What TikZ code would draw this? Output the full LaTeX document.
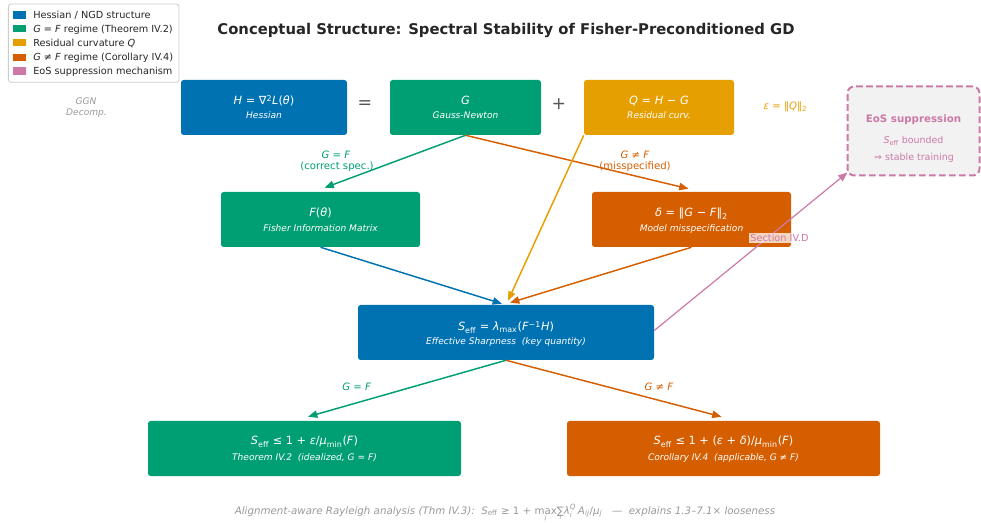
\documentclass[tikz,border=0pt]{standalone}
\usepackage{amsmath}
\usepackage{fontspec}
\setmainfont{DejaVu Sans}
\usetikzlibrary{arrows.meta,calc}
\definecolor{cblue}{HTML}{0072B2}
\definecolor{cgreen}{HTML}{009E73}
\definecolor{corange}{HTML}{E69F00}
\definecolor{cverm}{HTML}{D55E00}
\definecolor{cpink}{HTML}{CC79A7}
\definecolor{cgray}{HTML}{999999}
\definecolor{ctitle}{HTML}{262626}
\definecolor{cop}{HTML}{555555}
\definecolor{clegframe}{HTML}{CCCCCC}
\definecolor{ceosfill}{HTML}{F2F2F2}
\newlength\px \setlength\px{0.75pt}
\newcommand\mi[1]{\textit{#1}}
\newcommand\sbs[1]{\ensuremath{_{\text{\upshape #1}}}}
\newcommand\sps[1]{\ensuremath{^{\text{\upshape #1}}}}
\newcommand\fs[1]{\fontsize{#1}{#1}\selectfont}
\newcommand\undr[2]{\begin{tabular}[t]{@{}c@{}}#1\\[-3.6pt]{\fs{4.6}#2}\end{tabular}}
\begin{document}
\begin{tikzpicture}[x=0.75pt,y=-0.75pt,
  box/.style={rounded corners=2pt, inner sep=0pt, draw=none},
  maintxt/.style={anchor=base, text=white, font=\fs{8.5}, inner sep=0pt},
  subtxt/.style={anchor=base, text=white, font=\fs{6.8}\itshape, inner sep=0pt},
  lbl/.style={anchor=base, font=\fs{7.6}, inner sep=0pt},
  arr/.style={-{Triangle[length=7pt,width=5.5pt]}, line width=1.1pt},
  legpatch/.style={inner sep=0pt, minimum width=12.7\px, minimum height=7.3\px},
  legtxt/.style={anchor=base west, font=\fs{7.3}, text=ctitle, inner sep=0pt}]
\useasboundingbox (0,0) rectangle (981,523);

% legend
\node[draw=clegframe, fill=white, line width=0.6pt, rounded corners=2pt, inner sep=0pt,
      minimum width=170.7\px, minimum height=78.3\px] (leg) at (93.7,43.2) {};
\node[legpatch, fill=cblue]   (p1) at (19.7,14.9) {};
\node[legpatch, fill=cgreen]  (p2) at (19.7,28.8) {};
\node[legpatch, fill=corange] (p3) at (19.7,42.7) {};
\node[legpatch, fill=cverm]   (p4) at (19.7,57.2) {};
\node[legpatch, fill=cpink]   (p5) at (19.7,71.1) {};
\node[legtxt] (t1) at (33,18.3) {Hessian / NGD structure};
\node[legtxt] (t2) at (33,32.2) {\mi{G} = \mi{F} regime (Theorem IV.2)};
\node[legtxt] (t3) at (33,46.1) {Residual curvature \mi{Q}};
\node[legtxt] (t4) at (33,60.6) {\mi{G} ≠ \mi{F} regime (Corollary IV.4)};
\node[legtxt] (t5) at (33,74.5) {EoS suppression mechanism};

% title
\node[anchor=base, font=\fs{11.1}\bfseries, text=ctitle, inner sep=0pt] (title) at (506,35)
  {Conceptual Structure: Spectral Stability of Fisher-Preconditioned GD};

% side notes
\node[anchor=base, font=\fs{6.8}\itshape, text=cgray, inner sep=0pt] (ggn1) at (86,105) {GGN};
\node[anchor=base, font=\fs{6.8}\itshape, text=cgray, inner sep=0pt] (ggn2) at (86.5,116) {Decomp.};
\node[font=\fs{13}, text=cop, inner sep=0pt] (eq) at (365,105) {=};
\node[font=\fs{13}, text=cop, inner sep=0pt] (plus) at (559,104.5) {+};
\node[lbl, text=corange] (eps) at (785.5,110) {\mi{ε} = ‖\mi{Q}‖\sbs{2}};

% boxes
\node[box, fill=cblue,  minimum width=166\px, minimum height=55\px] (H) at (264,107.5) {};
\node[box, fill=cgreen, minimum width=151\px, minimum height=55\px] (G) at (465.5,107.5) {};
\node[box, fill=corange,minimum width=150\px, minimum height=55\px] (Q) at (659,107.5) {};
\node[box, fill=cgreen, minimum width=199\px, minimum height=55\px] (F) at (320.5,219.5) {};
\node[box, fill=cverm,  minimum width=199\px, minimum height=55\px] (D) at (691.5,219.5) {};
\node[box, fill=cblue,  minimum width=296\px, minimum height=55\px] (S) at (506,332.5) {};
\node[box, fill=cgreen, minimum width=313\px, minimum height=55\px] (BL) at (304.5,448.5) {};
\node[box, fill=cverm,  minimum width=313\px, minimum height=55\px] (BR) at (723.5,448.5) {};
\node[fill=ceosfill, draw=cpink, line width=1.5pt, rounded corners=5pt,
      dash pattern=on 5pt off 2.5pt, inner sep=0pt,
      minimum width=132\px, minimum height=89\px] (EoS) at (913.5,131) {};

% box texts
\node[maintxt] (Hm) at (264,105) {\mi{H} = ∇\sps{2}\mi{L}(\mi{θ})};
\node[subtxt]  (Hs) at (264,119) {Hessian};
\node[maintxt] (Gm) at (465.5,105) {\mi{G}};
\node[subtxt]  (Gs) at (465.5,119) {Gauss-Newton};
\node[maintxt] (Qm) at (659,105) {\mi{Q} = \mi{H} − \mi{G}};
\node[subtxt]  (Qs) at (659,119) {Residual curv.};
\node[maintxt] (Fm) at (320.5,217) {\mi{F}(\mi{θ})};
\node[subtxt]  (Fs) at (320.5,232) {Fisher Information Matrix};
\node[maintxt] (Dm) at (691.5,217) {\mi{δ} = ‖\mi{G} − \mi{F}‖\sbs{2}};
\node[subtxt]  (Ds) at (691.5,232) {Model misspecification};
\node[maintxt] (Sm) at (506,331) {\mi{S}\sbs{eff} = \mi{λ}\sbs{max}(\mi{F}\sps{−1}\mi{H})};
\node[subtxt]  (Ss) at (506,344.5) {Effective Sharpness\ \ (key quantity)};
\node[maintxt] (BLm) at (304.5,445) {\mi{S}\sbs{eff} ≤ 1 + \mi{ε}/\mi{μ}\sbs{min}(\mi{F})};
\node[subtxt]  (BLs) at (304.5,460) {Theorem IV.2\ \ (idealized, \mi{G} = \mi{F})};
\node[maintxt] (BRm) at (723.5,445) {\mi{S}\sbs{eff} ≤ 1 + (\mi{ε} + \mi{δ})/\mi{μ}\sbs{min}(\mi{F})};
\node[subtxt]  (BRs) at (723.5,460) {Corollary IV.4\ \ (applicable, \mi{G} ≠ \mi{F})};
\node[anchor=base, font=\fs{7.7}\bfseries, text=cpink, inner sep=0pt] (Et) at (913.5,123) {EoS suppression};
\node[anchor=base, font=\fs{7.1}, text=cpink, inner sep=0pt] (Ea) at (913.5,144) {\mi{S}\sbs{eff} bounded};
\node[anchor=base, font=\fs{7.1}, text=cpink, inner sep=0pt] (Eb) at (914,161) {⇒ stable training};

% connectors
\draw[arr, cgreen] (G.south) -- ($(F.north)+(4,-4)$);
\draw[arr, cverm] (G.south) -- ($(D.north)+(-3,-3)$);
\draw[arr, corange] (Q.south west) -- ($(S.north)+(2,-4)$);
\draw[arr, cblue] (F.south) -- ($(S.north)+(-4,-1)$);
\draw[arr, cverm] (D.south) -- ($(S.north)+(4,-2)$);
\draw[arr, cpink, line width=0.9pt] ($(S.east)+(0,-2)$) -- ($(EoS.south west)+(1,-4)$);
\draw[arr, cgreen] (S.south) -- ($(BL.north)+(3.5,-4)$);
\draw[arr, cverm] (S.south) -- ($(BR.north)+(-2,-4)$);

% connector labels
\node[lbl, text=cgreen] (la1) at (336,158.3) {\mi{G} = \mi{F}};
\node[lbl, text=cgreen] (la2) at (337,169.5) {(correct spec.)};
\node[lbl, text=cverm] (lb1) at (635,158.3) {\mi{G} ≠ \mi{F}};
\node[lbl, text=cverm] (lb2) at (635,169.5) {(misspecified)};
\node[anchor=base, font=\fs{7.3}, text=cpink, fill=white, fill opacity=0.75, text opacity=1,
      inner sep=1pt] (sec) at (779.5,241.7) {Section IV.D};
\node[lbl, text=cgreen] (lc) at (356.7,390.5) {\mi{G} = \mi{F}};
\node[lbl, text=cverm] (ld) at (659,390.5) {\mi{G} ≠ \mi{F}};

% footer
\node[anchor=base, font=\fs{7.7}, text=cgray, inner sep=0pt] (foot) at (505,514)
  {\textit{Alignment-aware Rayleigh analysis (Thm IV.3):}\ \ \mi{S}\sbs{eff} ≥ 1 + \undr{max}{\mi{j}}\undr{∑}{\mi{i}}\mi{λ}\ensuremath{_{\text{\mi{i}}}^{\text{\mi{Q}}}}\,\mi{A}\sbs{\mi{ij}}/\mi{μ}\sbs{\mi{j}}\ \ \ —\ \ \textit{explains 1.3–7.1× looseness}};
\end{tikzpicture}
\end{document}
